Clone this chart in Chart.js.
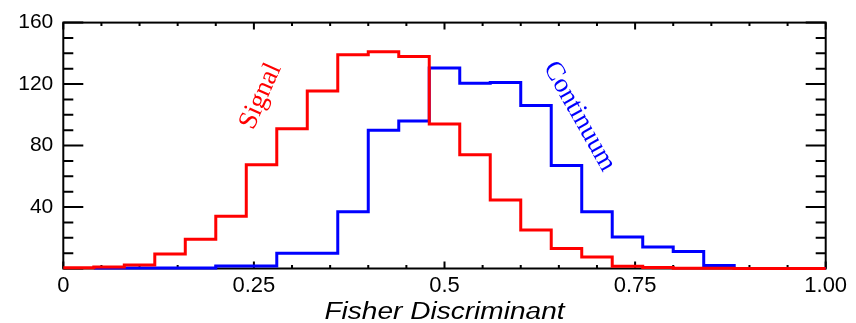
<!DOCTYPE html>
<html>
<head>
<meta charset="utf-8">
<script src="https://cdn.jsdelivr.net/npm/chart.js@4"></script>
<style>
html, body { margin: 0; padding: 0; background: #fff; }
#wrap { width: 856px; height: 323px; }
</style>
</head>
<body>
<div id="wrap"><canvas id="fisherChart"></canvas></div>
<script>
// histogram bin edges (0.04 wide) and counts per bin
var binEdges = [0, 0.04, 0.08, 0.12, 0.16, 0.20, 0.24, 0.28, 0.32, 0.36, 0.40, 0.44, 0.48,
                0.52, 0.56, 0.60, 0.64, 0.68, 0.72, 0.76, 0.80, 0.84, 0.88, 0.92, 0.96, 1.00];
var signalCounts = [0.5, 1, 2.2, 9.5, 19, 34, 67.5, 91, 115.5, 139, 141, 138, 94,
                    74, 44.5, 25, 13, 7.5, 1.5, 0.6, 0.2, 0.1, 0, 0, 0];
var continuumCounts = [null, 0.3, 0.3, 0.3, 0.3, 1.7, 1.7, 10, 10, 37, 90, 96, 130.5,
                       120.5, 121, 106, 67, 37, 20.5, 14, 11, 2, 0, 0, 0];

var xTickValues = [0, 0.25, 0.5, 0.75, 1];
var xTickLabels = ["0", "0.25", "0.5", "0.75", "1.00"];
var xMinorValues = [0.05, 0.1, 0.15, 0.2, 0.3, 0.35, 0.4, 0.45, 0.55, 0.6, 0.65, 0.7, 0.8, 0.85, 0.9, 0.95];
var yTickValues = [0, 40, 80, 120, 160];
var yTickLabels = ["", "40", "80", "120", "160"];
var yMinorValues = [10, 20, 30, 50, 60, 70, 90, 100, 110, 130, 140, 150];
var xTitle = "Fisher Discriminant";

function histPoints(counts) {
    var pts = [];
    for (var i = 0; i < counts.length; i++) {
        pts.push({x: binEdges[i], y: counts[i]});
    }
    pts.push({x: binEdges[binEdges.length - 1], y: counts[counts.length - 1]});
    return pts;
}

// box with inward ticks on all four sides
var frameTicks = {
    id: "frameTicks",
    beforeDatasetsDraw: function (chart) {
        var ctx = chart.ctx, a = chart.chartArea;
        var xs = chart.scales.x, ys = chart.scales.y;
        ctx.save();
        ctx.strokeStyle = "#000";
        ctx.lineWidth = 2;
        ctx.strokeRect(a.left, a.top, a.right - a.left, a.bottom - a.top);
        ctx.beginPath();
        function yTick(v, len) {
            var py = ys.getPixelForValue(v);
            ctx.moveTo(a.left, py); ctx.lineTo(a.left + len, py);
            ctx.moveTo(a.right, py); ctx.lineTo(a.right - len, py);
        }
        function xTick(v, len) {
            var px = xs.getPixelForValue(v);
            ctx.moveTo(px, a.bottom); ctx.lineTo(px, a.bottom - len);
            ctx.moveTo(px, a.top); ctx.lineTo(px, a.top + len);
        }
        yTickValues.forEach(function (v) { yTick(v, 20); });
        yMinorValues.forEach(function (v) { yTick(v, 10); });
        xTickValues.forEach(function (v) { xTick(v, 7); });
        xMinorValues.forEach(function (v) { xTick(v, 3.5); });
        ctx.stroke();
        ctx.restore();
    }
};

var curveLabels = [
    {text: "Signal", x: 0.259, y: 112, angle: -66, color: "#ff0000"},
    {text: "Continuum", x: 0.677, y: 99, angle: 60.5, color: "#0000ff"}
];

var labelPlugin = {
    id: "curveLabels",
    afterDatasetsDraw: function (chart) {
        var ctx = chart.ctx, a = chart.chartArea;
        curveLabels.forEach(function (l) {
            ctx.save();
            ctx.translate(chart.scales.x.getPixelForValue(l.x), chart.scales.y.getPixelForValue(l.y));
            ctx.rotate(l.angle * Math.PI / 180);
            ctx.font = "27px 'Liberation Serif'";
            ctx.fillStyle = l.color;
            ctx.textAlign = "center";
            ctx.textBaseline = "middle";
            ctx.fillText(l.text, 0, 0);
            ctx.restore();
        });
        // axis title, slightly widened like the original
        ctx.save();
        ctx.translate((a.left + a.right) / 2, 319);
        ctx.scale(1.22, 1);
        ctx.font = "italic 23px 'Liberation Sans'";
        ctx.fillStyle = "#000";
        ctx.textAlign = "center";
        ctx.textBaseline = "alphabetic";
        ctx.fillText(xTitle, 0, 0);
        ctx.restore();
    }
};

new Chart("fisherChart", {
    type: "line",
    data: {
        datasets: [{
            label: "Signal",
            data: histPoints(signalCounts),
            borderColor: "#ff0000",
            borderWidth: 3,
            stepped: true,
            pointRadius: 0,
            clip: false
        }, {
            label: "Continuum",
            data: histPoints(continuumCounts),
            borderColor: "#0000ff",
            borderWidth: 3,
            stepped: true,
            pointRadius: 0,
            clip: false
        }]
    },
    options: {
        responsive: true,
        maintainAspectRatio: false,
        animation: false,
        layout: {padding: {top: 19.5, right: 30.3, left: 0, bottom: 0}},
        plugins: {legend: {display: false}, tooltip: {enabled: false}},
        scales: {
            x: {
                type: "linear",
                min: 0,
                max: 1,
                grid: {display: false, drawTicks: false},
                border: {display: false},
                afterFit: function (s) { s.height = 54.5; },
                afterBuildTicks: function (s) {
                    s.ticks = xTickValues.map(function (v) { return {value: v}; });
                },
                ticks: {
                    padding: 4.6,
                    color: "#000",
                    maxRotation: 0,
                    autoSkip: false,
                    font: {family: "'Liberation Sans'", size: 22},
                    callback: function (v) { return xTickLabels[xTickValues.indexOf(v)]; }
                }
            },
            y: {
                min: 0,
                max: 160,
                grid: {display: false, drawTicks: false},
                border: {display: false},
                afterFit: function (s) { s.width = 63.3; },
                afterBuildTicks: function (s) {
                    s.ticks = yTickValues.map(function (v) { return {value: v}; });
                },
                ticks: {
                    padding: 10,
                    color: "#000",
                    autoSkip: false,
                    font: {family: "'Liberation Sans'", size: 21},
                    callback: function (v) { return yTickLabels[yTickValues.indexOf(v)]; }
                }
            }
        }
    },
    plugins: [frameTicks, labelPlugin]
});
</script>
</body>
</html>
